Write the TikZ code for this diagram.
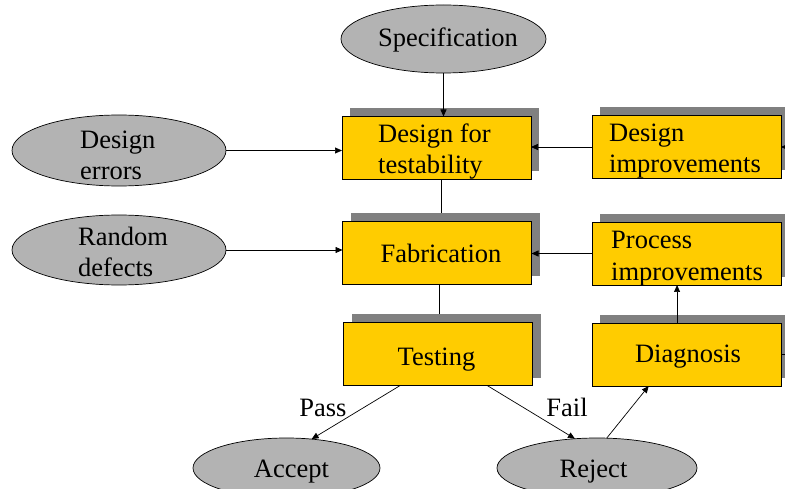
\documentclass[tikz,border=0pt]{standalone}
\usepackage{fontspec}
\setmainfont{Liberation Serif}
\usetikzlibrary{arrows.meta,calc,shapes.geometric}
\definecolor{boxyellow}{HTML}{FFCC00}
\definecolor{shadowgray}{HTML}{808080}
\definecolor{ellgray}{HTML}{B3B3B3}
\begin{document}
\begin{tikzpicture}[x=1pt,y=-1pt,
  box/.style={draw=black, line width=0.8pt, fill=boxyellow, minimum width=189pt, minimum height=63pt, inner sep=0pt, outer sep=0pt},
  shadowbox/.style={fill=shadowgray, minimum width=189pt, minimum height=63pt, inner sep=0pt, outer sep=0pt},
  ell/.style={ellipse, draw=black, line width=0.7pt, fill=ellgray, inner sep=0pt, outer sep=0pt},
  txt/.style={inner sep=0pt, font=\fontsize{26.5}{31.5}\selectfont, align=left},
  arr/.style={line width=0.7pt, -{Triangle[length=7pt,width=6pt]}},
  ln/.style={line width=0.7pt}]
\clip (0,0) rectangle (785,489);
\fill[white] (0,0) rectangle (785,489);
% shadows
\node[shadowbox] (sdft) at (444.5,140) {};
\node[shadowbox] (sdimp) at (694.5,139) {};
\node[shadowbox] (sfab) at (445,244.5) {};
\node[shadowbox] (spimp) at (694.5,245.5) {};
\node[shadowbox] (stest) at (446,346) {};
\node[shadowbox] (sdiag) at (694.5,346.5) {};
% boxes
\node[box] (dft) at (436.5,148) {};
\node[box] (dimp) at (686.5,147) {};
\node[box] (fab) at (437,252.5) {};
\node[box] (pimp) at (686.5,253.5) {};
\node[box] (test) at (438,354) {};
\node[box] (diag) at (686.5,354.5) {};
% ellipses
\node[ell, minimum width=205pt, minimum height=68pt] (spec) at (443.5,39) {};
\node[ell, minimum width=214pt, minimum height=71pt] (derr) at (119,150.5) {};
\node[ell, minimum width=214pt, minimum height=70pt] (rdef) at (119,250) {};
\node[ell, minimum width=187pt, minimum height=60pt] (acc) at (286.5,468) {};
\node[ell, minimum width=200pt, minimum height=60pt] (rej) at (597,468) {};
% texts
\node[txt, anchor=base] (tspec) at (448,47) {Specification};
\node[txt, anchor=base west] (tdft) at (378,174) {Design for\\testability};
\node[txt, anchor=base west] (tdimp) at (609,173) {Design\\improvements};
\node[txt, anchor=base] (tfab) at (441,263) {Fabrication};
\node[txt, anchor=base west] (tpimp) at (611,280) {Process\\improvements};
\node[txt, anchor=base] (ttest) at (436.5,365) {Testing};
\node[txt, anchor=base] (tdiag) at (688,362) {Diagnosis};
\node[txt, anchor=base west] (tderr) at (80,180) {Design\\errors};
\node[txt, anchor=base west] (trdef) at (78,277) {Random\\defects};
\node[txt, anchor=base] (tacc) at (291.5,477) {Accept};
\node[txt, anchor=base] (trej) at (593.5,477) {Reject};
\node[txt, anchor=base] (tpass) at (323,416) {Pass};
\node[txt, anchor=base] (tfail) at (567,416) {Fail};
% connectors
\draw[arr] (spec.south) -- (spec.south |- dft.north);
\draw[arr] (derr.east) -- (derr.east -| dft.west);
\draw[arr] (dimp.west) -- (dimp.west -| dft.east);
\draw[ln] ([xshift=4.5pt]dft.south) -- ([xshift=4.5pt]dft.south |- sfab.north);
\draw[arr] (rdef.east) -- (rdef.east -| fab.west);
\draw[arr] (pimp.west) -- (pimp.west -| fab.east);
\draw[ln] ([xshift=2pt]fab.south) -- ([xshift=2pt]fab.south |- stest.north);
\coordinate (d1) at ($(diag.north west)!0.45!(diag.north east)$);
\draw[arr] (d1) -- (d1 |- pimp.south);
\coordinate (tp) at ($(test.south west)!0.3!(test.south east)$);
\coordinate (tf) at ($(test.south west)!0.76!(test.south east)$);
\coordinate (db) at ($(diag.south west)!0.3!(diag.south east)$);
\draw[arr] (tp) -- (acc.49);
\draw[arr] (tf) -- (rej.127);
\draw[arr] (rej.72) -- (db);
\draw[arr] (diag.east) -- ++(20,0) |- (dimp.east);
\end{tikzpicture}
\end{document}
